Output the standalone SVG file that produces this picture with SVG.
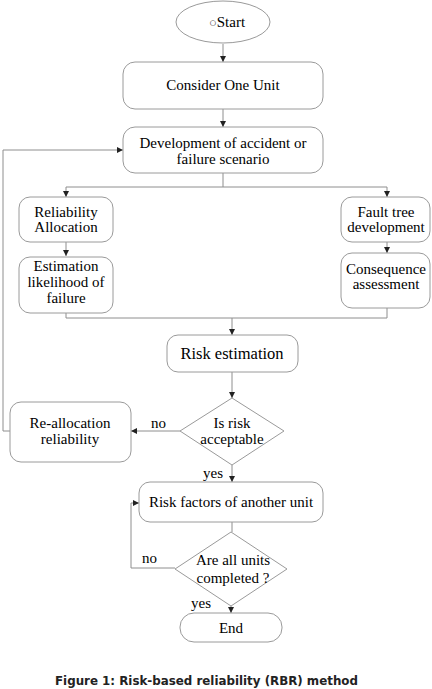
<svg xmlns="http://www.w3.org/2000/svg" width="432" height="689" viewBox="0 0 432 689">
<style>
.box{fill:#fff;stroke:#9a9a9a;stroke-width:1}
.ln{fill:none;stroke:#8e8e8e;stroke-width:1}
.t{font-family:"Liberation Serif","Times New Roman",serif;font-size:15px;fill:#000;text-anchor:middle}
.lab{font-family:"Liberation Serif","Times New Roman",serif;font-size:15px;fill:#000}
.cap{font-family:"DejaVu Sans",Verdana,sans-serif;font-size:11.5px;font-weight:bold;fill:#222}
</style>
<defs>
<marker id="ah" markerUnits="userSpaceOnUse" markerWidth="6" markerHeight="6" refX="6" refY="3" orient="auto">
<path d="M0,0 L6,3 L0,6 z" fill="#222"/>
</marker>
</defs>
<rect width="432" height="689" fill="#fff"/>
<g id="connectors">
<path class="ln" d="M223,44 V62" marker-end="url(#ah)"/>
<path class="ln" d="M223,109 V127" marker-end="url(#ah)"/>
<path class="ln" d="M223,173 V187 M66,187 H387"/>
<path class="ln" d="M66,187 V197" marker-end="url(#ah)"/>
<path class="ln" d="M387,187 V197" marker-end="url(#ah)"/>
<path class="ln" d="M66,242 V256" marker-end="url(#ah)"/>
<path class="ln" d="M387,242 V253" marker-end="url(#ah)"/>
<path class="ln" d="M66,313 V318 H387 V308 M232,318"/>
<path class="ln" d="M232,318 V335" marker-end="url(#ah)"/>
<path class="ln" d="M232,372 V398" marker-end="url(#ah)"/>
<path class="ln" d="M180,431 H131" marker-end="url(#ah)"/>
<path class="ln" d="M10,431 H3 V150 H123" marker-end="url(#ah)"/>
<path class="ln" d="M232,465 V482" marker-end="url(#ah)"/>
<path class="ln" d="M232,522 V532"/>
<path class="ln" d="M175,568 H131 V503 H139" marker-end="url(#ah)"/>
<path class="ln" d="M231,606 V613" marker-end="url(#ah)"/>
<text class="lab" x="151" y="428">no</text>
<text class="lab" x="203" y="478">yes</text>
<text class="lab" x="142" y="563">no</text>
<text class="lab" x="191" y="608">yes</text>
</g>
<g id="start">
<ellipse class="box" cx="223" cy="22" rx="47" ry="21"/>
<text class="t" x="227" y="27"><tspan style="font-size:13px;fill:#444">○</tspan>Start</text>
</g>
<g id="consider">
<rect class="box" x="123" y="62" width="200" height="47" rx="12"/>
<text class="t" x="223" y="90">Consider One Unit</text>
</g>
<g id="development">
<rect class="box" x="123" y="127" width="200" height="46" rx="12"/>
<text class="t" x="223" y="148">Development of accident or</text>
<text class="t" x="223" y="164">failure scenario</text>
</g>
<g id="reliability">
<rect class="box" x="19" y="197" width="94" height="45" rx="11"/>
<text class="t" x="66" y="217">Reliability</text>
<text class="t" x="66" y="232">Allocation</text>
</g>
<g id="estimation">
<rect class="box" x="19" y="257" width="94" height="56" rx="11"/>
<text class="t" x="66" y="271">Estimation</text>
<text class="t" x="66" y="287">likelihood of</text>
<text class="t" x="66" y="303">failure</text>
</g>
<g id="faulttree">
<rect class="box" x="341" y="197" width="89" height="45" rx="11"/>
<text class="t" x="386" y="217">Fault tree</text>
<text class="t" x="386" y="232">development</text>
</g>
<g id="consequence">
<rect class="box" x="341" y="253" width="89" height="55" rx="11"/>
<text class="t" x="386" y="274">Consequence</text>
<text class="t" x="386" y="289">assessment</text>
</g>
<g id="riskest">
<rect class="box" x="167" y="335" width="131" height="37" rx="11"/>
<text class="t" x="232" y="359" style="font-size:16.5px">Risk estimation</text>
</g>
<g id="acceptable">
<polygon class="box" points="232,398 284,431 232,465 180,431"/>
<text class="t" x="232" y="428">Is risk</text>
<text class="t" x="232" y="444">acceptable</text>
</g>
<g id="reallocation">
<rect class="box" x="10" y="402" width="121" height="60" rx="11"/>
<text class="t" x="70" y="428">Re-allocation</text>
<text class="t" x="70" y="444">reliability</text>
</g>
<g id="riskfactors">
<rect class="box" x="139" y="482" width="184" height="40" rx="11"/>
<text class="t" x="231" y="507">Risk factors of another unit</text>
</g>
<g id="allunits">
<polygon class="box" points="231,532 287,569 231,606 175,569"/>
<text class="t" x="233" y="565">Are all units</text>
<text class="t" x="233" y="583">completed ?</text>
</g>
<g id="end">
<rect class="box" x="180" y="613" width="102" height="29" rx="14"/>
<text class="t" x="231" y="633">End</text>
</g>
<text class="cap" x="55" y="685" textLength="303" lengthAdjust="spacingAndGlyphs">Figure 1: Risk-based reliability (RBR) method</text>
</svg>
